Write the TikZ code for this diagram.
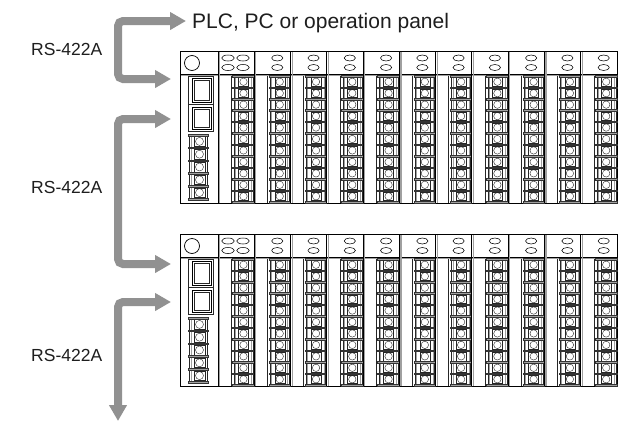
\documentclass[tikz,border=0pt]{standalone}
\usepackage{fontspec}
\setmainfont{Liberation Sans}
\usetikzlibrary{arrows.meta}
\definecolor{arrowgray}{RGB}{145,145,145}
\definecolor{linegray}{RGB}{160,160,160}
\definecolor{txt}{RGB}{30,30,30}
\tikzset{
  rackline/.style={black, line width=0.7pt},
  thinline/.style={black!85, line width=0.4pt},
  ovalline/.style={black, line width=0.55pt},
  grayline/.style={linegray, line width=1.1pt},
  bar/.style={fill=linegray, draw=black!80, line width=0.3pt},
  sig/.style={arrowgray, line width=8pt, rounded corners=5pt},
  sigtips/.style={{Triangle[length=16pt,width=17pt]}-{Triangle[length=16pt,width=17pt]}},
  lbl/.style={text=txt, font=\fontsize{17.5}{20}\selectfont, inner sep=0pt},
  lblbig/.style={text=txt, font=\fontsize{21}{24}\selectfont, inner sep=0pt},
}
\newcommand\drawrack[1]{%
\begin{scope}[shift={(0,#1)}]
  % outer frame and header line
  \draw[rackline] (180,0) rectangle (617,152);
  \draw[rackline] (180,23) -- (617,23);
  \draw[grayline] (181,24.3) -- (616,24.3);
  % CPU module
  \draw[rackline] (192,12) circle[radius=7.5pt];
  \draw[thinline] (188,25) rectangle (213,80);
  \draw[thinline] (188,53) -- (213,53);
  \draw[rackline] (192,27) rectangle (211,51);
  \draw[thinline] (194,29) rectangle (209,49);
  \draw[rackline] (192,56) rectangle (211,78);
  \draw[thinline] (194,58) rectangle (209,76);
  % small CPU terminal block
  \draw[thinline] (189,84) rectangle (207,148);
  \draw[grayline] (191.2,84) -- (191.2,148);
  \foreach \k in {0,...,4}{%
    \pgfmathsetmacro\yk{84+12.8*\k}
    \draw[thinline] (194,\yk+1.6) rectangle (205,\yk+11.2);
    \draw[thinline] (199.5,\yk+6.4) circle[radius=4pt];
  }
  \foreach \k in {0,...,5}{%
    \pgfmathsetmacro\yb{84+12.8*\k}
    \draw[bar] (188,\yb-0.8) rectangle (208,\yb+0.8);
  }
  % I/O modules
  \foreach \i in {0,...,10}{%
    \pgfmathsetmacro\xo{218+36.27*\i}
    \draw[black, line width=0.9pt] (\xo,0) -- (\xo,152);
    \draw[grayline] (\xo+1.6,1) -- (\xo+1.6,151.5);
    \draw[thinline] (\xo+13,25) -- (\xo+13,152);
    % terminal block
    \draw[thinline] (\xo+16,25) rectangle (\xo+35,151);
    \draw[linegray, line width=0.9pt] (\xo+17.4,25) -- (\xo+17.4,151);
    \draw[linegray, line width=0.9pt] (\xo+33.6,25) -- (\xo+33.6,151);
    \foreach \k in {0,...,10}{%
      \pgfmathsetmacro\yk{25+11.45*\k}
      \draw[thinline] (\xo+20.5,\yk+1.4) rectangle (\xo+30.5,\yk+10.1);
      \draw[thinline] (\xo+25.5,\yk+5.75) circle[radius=3.7pt];
    }
    \foreach \k in {0,...,11}{%
      \pgfmathsetmacro\yb{25+11.45*\k}
      \draw[bar] (\xo+14.5,\yb-0.8) rectangle (\xo+36,\yb+0.8);
    }
  }
  % header ellipses
  \foreach \ex in {228,243}{%
    \foreach \ey in {7,16.5}{%
      \draw[ovalline] (\ex,\ey) ellipse[x radius=6.3pt, y radius=3pt];
    }
  }
  \foreach \i in {1,...,10}{%
    \pgfmathsetmacro\xe{218+36.27*\i+23}
    \draw[ovalline] (\xe,7) ellipse[x radius=5.6pt, y radius=3pt];
    \draw[ovalline] (\xe,16.5) ellipse[x radius=5.6pt, y radius=3pt];
  }
\end{scope}}
\begin{document}
\begin{tikzpicture}[x=1pt,y=-1pt]
  \useasboundingbox[fill=white] (0,0) rectangle (630,421);
  \drawrack{51}
  \drawrack{234}
  % coordinates for the signal lines
  \coordinate (a1s) at (171,79);
  \coordinate (a1c1) at (118,79);
  \coordinate (a1c2) at (118,21);
  \coordinate (a1e) at (186,21);
  \coordinate (a2s) at (171,119);
  \coordinate (a2c1) at (118,119);
  \coordinate (a2c2) at (118,264);
  \coordinate (a2e) at (171,264);
  \coordinate (a3s) at (171,302);
  \coordinate (a3c1) at (118,302);
  \coordinate (a3e) at (118,421);
  \draw[sig, sigtips] (a1s) -- (a1c1) -- (a1c2) -- (a1e);
  \draw[sig, sigtips] (a2s) -- (a2c1) -- (a2c2) -- (a2e);
  \draw[sig, sigtips] (a3s) -- (a3c1) -- (a3e);
  % labels
  \node[lblbig, anchor=base west] (plc) at (192,28) {PLC, PC or operation panel};
  \node[lbl, anchor=base west] (rs1) at (31,55) {RS-422A};
  \node[lbl, anchor=base west] (rs2) at (31,193) {RS-422A};
  \node[lbl, anchor=base west] (rs3) at (31,361) {RS-422A};
\end{tikzpicture}
\end{document}
